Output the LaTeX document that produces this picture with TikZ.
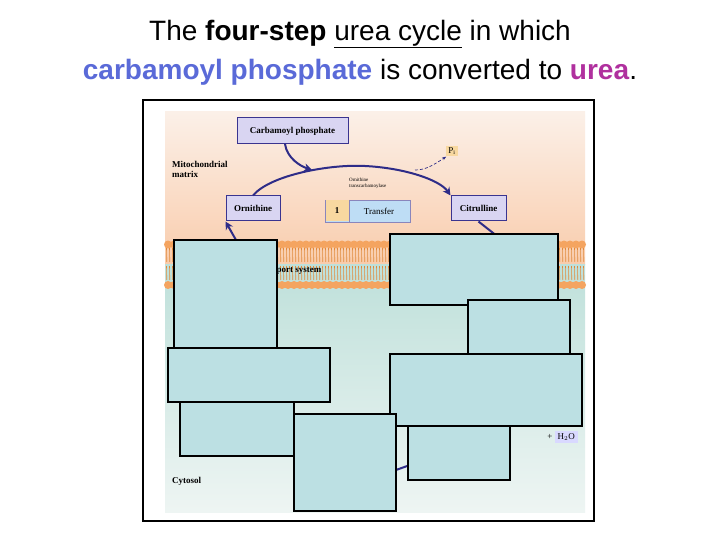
\documentclass[tikz,border=0pt]{standalone}
\usepackage{fontspec}
\setmainfont{Liberation Serif}
\newfontfamily\titlefont{Liberation Sans}
\usetikzlibrary{arrows.meta}
\definecolor{cpblue}{HTML}{5A6AD8}
\definecolor{ureamag}{HTML}{B0309E}
\definecolor{cover}{HTML}{BCE0E3}
\definecolor{lav}{HTML}{D9D5F2}
\definecolor{lavborder}{HTML}{3A3490}
\definecolor{arrowblue}{HTML}{2E2C88}
\definecolor{lipid}{HTML}{F4A460}
\definecolor{lipiddark}{HTML}{E08A3C}
\definecolor{trblue}{HTML}{BEDDF5}
\definecolor{tryel}{HTML}{F8D8A0}
\tikzset{
  coverbox/.style={draw=black,line width=1.2pt,fill=cover},
  molbox/.style={draw=lavborder,line width=1pt,fill=lav,font=\fontsize{9}{10}\selectfont\bfseries,inner sep=0pt},
  lbl/.style={font=\fontsize{9}{10}\selectfont\bfseries,inner sep=0pt},
  flow/.style={draw=arrowblue,line width=2pt,-{Stealth[length=8pt,width=8pt]}},
}
\begin{document}
\begin{tikzpicture}[x=1pt,y=-1pt]
\useasboundingbox (0,0) rectangle (720,540);
\fill[white] (0,0) rectangle (720,540);
% title
\node[font=\titlefont\fontsize{28}{30}\selectfont,inner sep=0pt] (t1) at (360,34) {The \textbf{four-step} \underline{urea cycle} in which};
\node[font=\titlefont\fontsize{28}{30}\selectfont,inner sep=0pt] (t2) at (360,72) {\textcolor{cpblue}{\textbf{carbamoyl phosphate}} is converted to \textcolor{ureamag}{\textbf{urea}}.};
% frame
\draw[line width=2pt] (143,100) rectangle (594,521);
% backgrounds
\shade[top color={rgb,255:red,251;green,240;blue,232},bottom color={rgb,255:red,249;green,204;blue,172}] (165,112) rectangle (585,264);
\shade[top color={rgb,255:red,190;green,224;blue,218},bottom color={rgb,255:red,238;green,245;blue,243}] (165,264) rectangle (585,512);
% membrane
\foreach \i in {0,...,69} {
  \pgfmathsetmacro{\xx}{168+6*\i}
  \draw[lipiddark,line width=0.6pt] (\xx-1.5,248) -- (\xx-1.2,262) (\xx+1.5,248) -- (\xx+1.8,262);
  \draw[lipiddark,line width=0.6pt] (\xx-1.5,266) -- (\xx-1.2,280) (\xx+1.5,266) -- (\xx+1.8,280);
  \fill[lipid] (\xx,244.5) circle (4);
  \fill[lipid] (\xx,285) circle (4);
}
\node[lbl,anchor=west] (ts) at (254,271) {Transport system};
% top labels
\node[lbl,align=left,anchor=north west] (mm) at (172,161) {Mitochondrial\\matrix};
\node[font=\fontsize{5}{6}\selectfont,align=left,anchor=north west,inner sep=0pt] (otc) at (349,178) {Ornithine\\transcarbamoylase};
\node[molbox,minimum width=111pt,minimum height=26pt] (cp) at (292.5,131) {Carbamoyl phosphate};
\node[molbox,minimum width=54pt,minimum height=25pt] (orn) at (253,208.5) {Ornithine};
\node[molbox,minimum width=55pt,minimum height=25pt] (cit) at (478.5,208.5) {Citrulline};
\node[draw=lavborder!60,fill=trblue,minimum width=85pt,minimum height=22pt,inner sep=0pt,anchor=west] (tr) at (325,211) {};
\fill[tryel] (325.5,200.5) rectangle (349,221.5);
\draw[lavborder!60] (349,200) -- (349,222);
\node[lbl] (one) at (337,211) {1};
\node[font=\fontsize{9}{10}\selectfont,inner sep=0pt] (trt) at (379,211) {Transfer};
\node[fill=tryel,inner sep=2pt,font=\fontsize{9}{10}\selectfont] (pi) at (452,151) {P$_\mathrm{i}$};
% arrows
\coordinate (pk) at (365,166);
\draw[flow] (orn.north) .. controls (270,175) and (330,164) .. (pk) .. controls (405,168) and (440,180) .. (cit.north west);
\draw[flow] (285,144) .. controls (287,158) and (300,166) .. (312,170);
\draw[arrowblue,line width=0.7pt,densely dashed,-{Stealth[length=4pt]}] (415,170) .. controls (425,170) and (432,166) .. (pi.south west);
\coordinate (ob) at (236,240);
\draw[flow] (ob) -- (orn.south west);
\coordinate (cb) at (502,240);
\draw[arrowblue,line width=2pt] (cit.south) -- (cb);
\coordinate (a1) at (396,470);
\coordinate (a2) at (410,465);
\draw[arrowblue,line width=2pt] (a1) -- (a2);
\node[font=\fontsize{9}{10}\selectfont,inner sep=1pt,anchor=east] (h2o) at (579,437) {+ \colorbox{blue!15}{H$_2$O}};
\node[lbl,anchor=west] (cy) at (172,481) {Cytosol};
% cover boxes
\draw[coverbox] (174,240) rectangle (277,348);
\draw[coverbox] (390,234) rectangle (558,305);
\draw[coverbox] (468,300) rectangle (570,355);
\draw[coverbox] (180,402) rectangle (294,456);
\draw[coverbox] (168,348) rectangle (330,402);
\draw[coverbox] (408,426) rectangle (510,480);
\draw[coverbox] (390,354) rectangle (582,426);
\draw[coverbox] (294,414) rectangle (396,511);
\end{tikzpicture}
\end{document}
